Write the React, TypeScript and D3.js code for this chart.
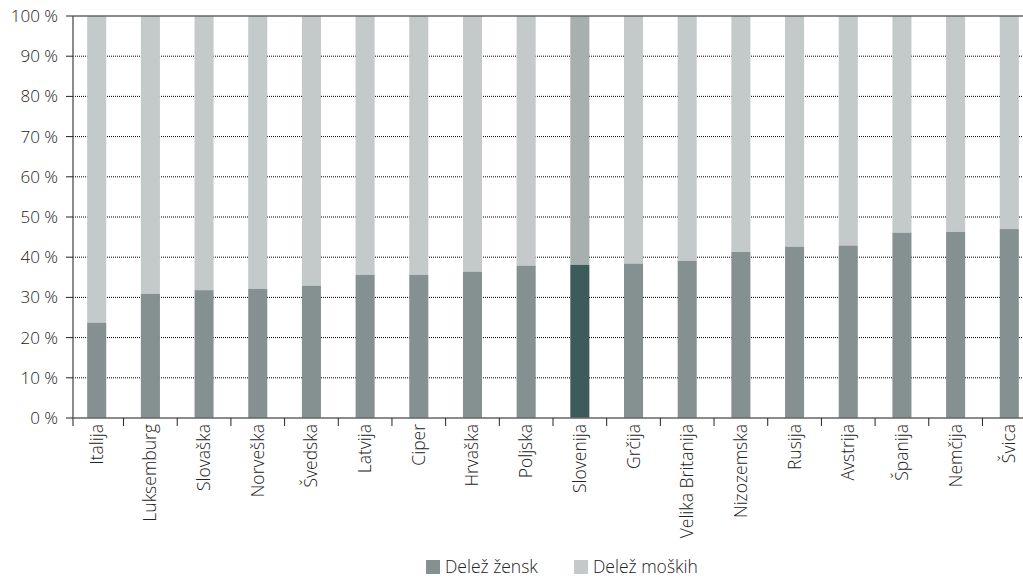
import React from "react";
import * as d3 from "d3";

const categories = ["Italija","Luksemburg","Slovaška","Norveška","Švedska","Latvija","Ciper","Hrvaška","Poljska","Slovenija","Grčija","Velika Britanija","Nizozemska","Rusija","Avstrija","Španija","Nemčija","Švica"];
const womenShare = [23.7,30.9,31.8,32.1,32.9,35.6,35.6,36.4,37.9,38.1,38.4,39.1,41.3,42.6,42.9,46.1,46.3,47.0];
const yTicks = [0,10,20,30,40,50,60,70,80,90,100];
const highlight = "Slovenija";
const legendLabels = ["Delež žensk","Delež moških"];

const W = 1023, H = 578;
const left = 73, right = 1023, top = 16, bottom = 418;
const FONT = "'Source Sans Pro', 'Open Sans', sans-serif";

export default function App() {
  const x = d3.scaleBand().domain(categories).range([70, 1036]).paddingInner(0.645).paddingOuter(0.32);
  const y = d3.scaleLinear().domain([0, 100]).range([bottom, top]);
  const step = x.step();
  return (
    <svg width={W} height={H} style={{ position: "absolute", left: 0, top: 0 }} fontFamily={FONT}>
      {yTicks.filter(t => t > 0 && t < 100).map(t => (
        <line key={"g"+t} x1={left} x2={right} y1={y(t)} y2={y(t)} stroke="#000" strokeWidth={1} strokeDasharray="1,1" />
      ))}
      {categories.map((c, i) => {
        const hl = c === highlight;
        const bx = x(c)!;
        return (
          <g key={c}>
            <rect x={bx} y={y(100)} width={x.bandwidth()} height={y(womenShare[i]) - y(100)} fill={hl ? "#a7b0af" : "#c4cac9"} />
            <rect x={bx} y={y(womenShare[i])} width={x.bandwidth()} height={y(0) - y(womenShare[i])} fill={hl ? "#3d5b5b" : "#859190"} />
          </g>
        );
      })}
      <line x1={left} x2={right} y1={y(100)} y2={y(100)} stroke="#666" strokeWidth={1.5} />
      <line x1={left} x2={right} y1={y(0)} y2={y(0)} stroke="#666" strokeWidth={1.5} />
      <line x1={left} x2={left} y1={y(100)} y2={y(0) + 8} stroke="#666" strokeWidth={1.5} />
      {yTicks.map(t => (
        <g key={"t"+t}>
          <line x1={66} x2={left} y1={y(t)} y2={y(t)} stroke="#222" strokeWidth={1} />
          <text x={58} y={y(t)} dy="0.35em" textAnchor="end" fontSize={17} fontWeight={300} fill="#222">{t} %</text>
        </g>
      ))}
      {categories.map((c, i) => {
        const cx = x(c)! + x.bandwidth() / 2;
        const tx = x(c)! + x.bandwidth() / 2 + step / 2;
        return (
          <g key={"x"+c}>
            {i < categories.length - 1 && <line x1={tx} x2={tx} y1={y(0)} y2={y(0) + 8} stroke="#222" strokeWidth={1} />}
            <text transform={`translate(${cx + 6},${y(0) + 6}) rotate(-90)`} textAnchor="end" fontSize={17.5} fontWeight={300} fill="#222">{c}</text>
          </g>
        );
      })}
      <g>
        <rect x={426} y={560} width={14} height={14} fill="#859190" />
        <text x={445} y={573} fontSize={17.5} fontWeight={300} fill="#222">{legendLabels[0]}</text>
        <rect x={574} y={560} width={14} height={14} fill="#c4cac9" />
        <text x={593} y={573} fontSize={17.5} fontWeight={300} fill="#222">{legendLabels[1]}</text>
      </g>
    </svg>
  );
}
